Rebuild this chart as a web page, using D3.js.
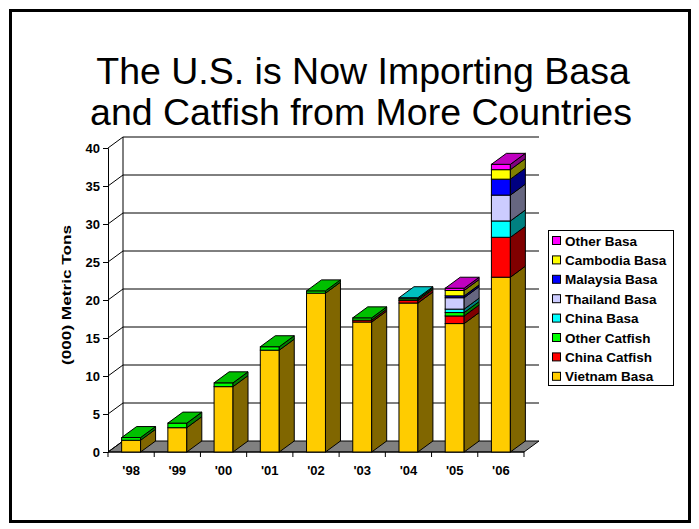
<!DOCTYPE html>
<html>
<head>
<meta charset="utf-8">
<script src="https://cdn.jsdelivr.net/npm/d3@7"></script>
<style>
  body { margin: 0; background: #fff; }
  svg { display: block; font-family: "Liberation Sans", Arial, sans-serif; }
</style>
</head>
<body>
<svg width="699" height="529"></svg>
<script>
const years = ["'98", "'99", "'00", "'01", "'02", "'03", "'04", "'05", "'06"];
const vietnamBasa = [1.55, 3.2, 8.6, 13.4, 20.9, 17.1, 19.6, 16.9, 23.0];
const chinaCatfish = [0, 0, 0, 0, 0, 0.25, 0.35, 1.0, 5.25];
const otherCatfish = [0.35, 0.6, 0.5, 0.45, 0.3, 0.3, 0.2, 0.45, 0];
const chinaBasa = [0, 0, 0, 0, 0, 0, 0.15, 0.45, 2.15];
const thailandBasa = [0, 0, 0, 0, 0, 0, 0, 1.5, 3.4];
const malaysiaBasa = [0, 0, 0, 0, 0, 0, 0, 0.25, 2.1];
const cambodiaBasa = [0, 0, 0, 0, 0, 0, 0, 0.7, 1.25];
const otherBasa = [0, 0, 0, 0, 0, 0, 0, 0.3, 0.7];
const yTicks = [0, 5, 10, 15, 20, 25, 30, 35, 40];

const seriesNames = ["Vietnam Basa", "China Catfish", "Other Catfish", "China Basa",
  "Thailand Basa", "Malaysia Basa", "Cambodia Basa", "Other Basa"];
const seriesValues = [vietnamBasa, chinaCatfish, otherCatfish, chinaBasa,
  thailandBasa, malaysiaBasa, cambodiaBasa, otherBasa];
// front, top, side shades
const colors = {
  "Vietnam Basa": ["#FFCC00", "#C09900", "#806600"],
  "China Catfish": ["#FF0000", "#C00000", "#800000"],
  "Other Catfish": ["#00FF00", "#00C000", "#008000"],
  "China Basa": ["#00FFFF", "#00C0C0", "#008080"],
  "Thailand Basa": ["#CCCCFF", "#9999C0", "#666680"],
  "Malaysia Basa": ["#0000FF", "#0000C0", "#000080"],
  "Cambodia Basa": ["#FFFF00", "#C0C000", "#808000"],
  "Other Basa": ["#FF00FF", "#C000C0", "#800080"]
};

const rows = years.map((year, i) => {
  const row = { year };
  seriesNames.forEach((name, s) => (row[name] = seriesValues[s][i]));
  return row;
});

const svg = d3.select("svg");

// depth offset for the 3d look
const dx = 15, dy = -11;

const scaleX = d3.scaleBand(years, [108, 524]).paddingInner(0.59).paddingOuter(0.295);
const scaleY = d3.scaleLinear([0, 40], [452, 148]);
const step = scaleX.step();
const x0 = 108, x1 = 524;

// frame
svg.append("rect")
  .attr("x", 10.5).attr("y", 10.5).attr("width", 679).attr("height", 511)
  .attr("fill", "none").attr("stroke", "#000").attr("stroke-width", 3);

// title
svg.append("text")
  .attr("x", 363).attr("y", 84)
  .attr("text-anchor", "middle").attr("font-size", 37.5)
  .text("The U.S. is Now Importing Basa");
svg.append("text")
  .attr("x", 361).attr("y", 125)
  .attr("text-anchor", "middle").attr("font-size", 37.5)
  .text("and Catfish from More Countries");

// floor
svg.append("path")
  .attr("d", `M${x0},${scaleY(0)}L${x1},${scaleY(0)}L${x1 + dx},${scaleY(0) + dy}L${x0 + dx},${scaleY(0) + dy}Z`)
  .attr("fill", "#808080").attr("stroke", "#000").attr("stroke-width", 1);

// back wall gridlines and side wall lines
const grid = svg.append("g").attr("stroke", "#000").attr("stroke-width", 1).attr("fill", "none");
grid.selectAll(".back")
  .data(yTicks.filter((t) => t > 0))
  .join("line")
  .attr("x1", x0 + dx).attr("x2", x1 + dx)
  .attr("y1", (t) => scaleY(t) + dy).attr("y2", (t) => scaleY(t) + dy);
grid.selectAll(".side")
  .data(yTicks)
  .join("line")
  .attr("x1", x0).attr("x2", x0 + dx)
  .attr("y1", (t) => scaleY(t)).attr("y2", (t) => scaleY(t) + dy);
grid.append("line")
  .attr("x1", x0 + dx).attr("x2", x0 + dx)
  .attr("y1", scaleY(0) + dy).attr("y2", scaleY(40) + dy);

// y axis
const axisY = d3.axisLeft(scaleY).tickValues(yTicks).tickSize(5).tickPadding(3);
svg.append("g")
  .attr("transform", `translate(${x0},0)`)
  .call(axisY)
  .call((g) => g.selectAll("text").attr("font-size", 13).attr("font-weight", "bold").attr("fill", "#000")
    .attr("font-family", "Liberation Sans, Arial, sans-serif"))
  .call((g) => g.selectAll("line,path").attr("stroke", "#000"));

// x axis
svg.append("line")
  .attr("x1", x0).attr("x2", x1).attr("y1", scaleY(0)).attr("y2", scaleY(0))
  .attr("stroke", "#000");
svg.append("g")
  .selectAll("line")
  .data(d3.range(years.length + 1))
  .join("line")
  .attr("x1", (k) => x0 + k * step).attr("x2", (k) => x0 + k * step)
  .attr("y1", scaleY(0)).attr("y2", scaleY(0) + 5)
  .attr("stroke", "#000");
svg.append("g")
  .selectAll("text")
  .data(years)
  .join("text")
  .attr("x", (d) => scaleX(d) + scaleX.bandwidth() / 2)
  .attr("y", 475)
  .attr("text-anchor", "middle")
  .attr("font-size", 13).attr("font-weight", "bold")
  .text((d) => d);

// y title
svg.append("text")
  .attr("transform", "translate(71,295) rotate(-90)")
  .attr("text-anchor", "middle")
  .attr("font-size", 12).attr("font-weight", "bold")
  .attr("textLength", 140).attr("lengthAdjust", "spacingAndGlyphs")
  .text("(000) Metric Tons");

// stacked 3d bars
const stacked = d3.stack().keys(seriesNames)(rows);
const w = scaleX.bandwidth();
const bars = svg.append("g").attr("stroke", "#000").attr("stroke-width", 1);

years.forEach((year, i) => {
  const bx = scaleX(year);
  const segs = stacked
    .map((layer) => ({ key: layer.key, y0: layer[i][0], y1: layer[i][1] }))
    .filter((s) => s.y1 - s.y0 > 0);
  const g = bars.append("g");
  segs.forEach((s) => {
    const yb = scaleY(s.y0), yt = scaleY(s.y1);
    g.append("rect")
      .attr("x", bx).attr("y", yt).attr("width", w).attr("height", yb - yt)
      .attr("fill", colors[s.key][0]);
    g.append("path")
      .attr("d", `M${bx + w},${yb}L${bx + w + dx},${yb + dy}L${bx + w + dx},${yt + dy}L${bx + w},${yt}Z`)
      .attr("fill", colors[s.key][2]);
  });
  const top = segs[segs.length - 1];
  const yt = scaleY(top.y1);
  g.append("path")
    .attr("d", `M${bx},${yt}L${bx + w},${yt}L${bx + w + dx},${yt + dy}L${bx + dx},${yt + dy}Z`)
    .attr("fill", colors[top.key][1]);
});

// legend
const legend = svg.append("g");
legend.append("rect")
  .attr("x", 548.5).attr("y", 230.5).attr("width", 125).attr("height", 155)
  .attr("fill", "#fff").attr("stroke", "#000");
const legendItems = legend.selectAll(".item")
  .data(seriesNames.slice().reverse())
  .join("g")
  .attr("transform", (d, i) => `translate(0,${241 + i * 19.4})`);
legendItems.append("rect")
  .attr("x", 552.5).attr("y", -4.5).attr("width", 8).attr("height", 8)
  .attr("fill", (d) => colors[d][0]).attr("stroke", "#000");
legendItems.append("text")
  .attr("x", 565).attr("y", 4.5)
  .attr("font-size", 13.5).attr("font-weight", "bold")
  .text((d) => d);
</script>
</body>
</html>
